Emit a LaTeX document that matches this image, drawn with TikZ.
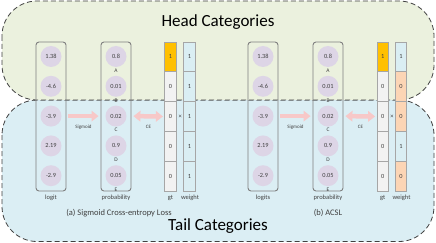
\documentclass[tikz,border=0pt]{standalone}
\usepackage{fontspec}
\setmainfont{Carlito}
\usetikzlibrary{arrows.meta}
\definecolor{headg}{HTML}{EBF1DE}
\definecolor{tailb}{HTML}{DBEEF4}
\definecolor{circc}{HTML}{DDD5E6}
\definecolor{goldc}{HTML}{FFC000}
\definecolor{gtg}{HTML}{F2F2F2}
\definecolor{wblue}{HTML}{DAEEF3}
\definecolor{worange}{HTML}{FCD5B5}
\definecolor{arrp}{HTML}{F7C8C8}
\definecolor{txtc}{HTML}{404040}
\definecolor{boxc}{HTML}{7F7F7F}
\definecolor{cellc}{HTML}{A6A6A6}
\begin{document}
\begin{tikzpicture}[x=1pt,y=-1pt,
  region/.style={draw=black!75, dash pattern=on 5pt off 3pt, line width=0.8pt, rounded corners=35pt},
  titlet/.style={font=\fontsize{17}{17}\selectfont, text=black},
  colbox/.style={draw=boxc, line width=0.9pt, rounded corners=3pt, minimum width=30pt, minimum height=149pt, inner sep=0pt},
  circn/.style={circle, fill=circc, minimum size=21pt, inner sep=0pt, font=\fontsize{6.3}{6.3}\selectfont, text=txtc},
  cell/.style={draw=cellc, line width=0.7pt, minimum width=11.5pt, minimum height=29.8pt, inner sep=0pt, font=\fontsize{6.3}{6.3}\selectfont, text=txtc},
  letter/.style={inner sep=0pt, font=\fontsize{5.5}{5.5}\selectfont, text=txtc},
  lab/.style={inner sep=0pt, font=\fontsize{6.5}{6.5}\selectfont, text=txtc},
  smalll/.style={inner sep=0pt, font=\fontsize{5}{5}\selectfont, text=txtc},
  capt/.style={inner sep=0pt, font=\fontsize{8.5}{8.5}\selectfont, text=txtc},
  arr/.style={draw=arrp, line width=4.5pt, -{Triangle[width=10.5pt,length=7pt]}},
  darr/.style={draw=arrp, line width=4.5pt, {Triangle[width=10.5pt,length=7pt]}-{Triangle[width=10.5pt,length=7pt]}}
]
\useasboundingbox (0,0) rectangle (436,243);
\path[region, fill=tailb] (2,100) rectangle (434,241.5);
\path[region, fill=headg] (2,1) rectangle (434,100);
\node[titlet] (head) at (218,22) {Head Categories};
\node[titlet] (tail) at (218,226) {Tail Categories};

% ---------- panel (a)
\node[colbox] (a-lbox) at (51,116.5) {};
\node[colbox] (a-pbox) at (116,116.5) {};
\foreach \v [count=\i] in {1.38,-4.6,-3.9,2.19,-2.9}
  \node[circn] (a-l\i) at (51,{56.5+(\i-1)*29.8}) {\v};
\foreach \v [count=\i] in {0.8,0.01,0.02,0.9,0.05}
  \node[circn] (a-p\i) at (116,{56.5+(\i-1)*29.8}) {\v};
\foreach \v [count=\i] in {A,B,C,D,E}
  \node[letter] (a-\v) at (116,{70.5+(\i-1)*29.8}) {\v};
\foreach \v/\c [count=\i] in {1/goldc,0/gtg,0/gtg,0/gtg,0/gtg}
  \node[cell, fill=\c] (a-g\i) at (170.5,{56.9+(\i-1)*29.8}) {\v};
\foreach \v/\c [count=\i] in {1/wblue,1/wblue,1/wblue,1/wblue,1/wblue}
  \node[cell, fill=\c] (a-w\i) at (189.5,{56.9+(\i-1)*29.8}) {\v};
\node[lab] (a-times) at (180.2,116.5) {×};
\draw[arr, shorten <=1.5pt, shorten >=2pt] (a-lbox.east |- a-l3) -- (a-pbox.west |- a-l3);
\draw[darr, shorten <=2pt, shorten >=1.5pt] (a-pbox.east |- a-l3) -- (a-g3.west);
\node[smalll] (a-sig) at (83.5,127) {Sigmoid};
\node[smalll] (a-ce) at (148.5,127) {CE};
\node[lab] (a-lt) at (51,198) {logit};
\node[lab] (a-pt) at (116,198) {probability};
\node[lab] (a-gt) at (170.5,198) {gt};
\node[lab] (a-wt) at (190,198) {weight};
\node[capt] (a-cap) at (119,213) {(a) Sigmoid Cross-entropy Loss};

% ---------- panel (b)
\node[colbox] (b-lbox) at (263,116.5) {};
\node[colbox] (b-pbox) at (328,116.5) {};
\foreach \v [count=\i] in {1.38,-4.6,-3.9,2.19,-2.9}
  \node[circn] (b-l\i) at (263,{56.5+(\i-1)*29.8}) {\v};
\foreach \v [count=\i] in {0.8,0.01,0.02,0.9,0.05}
  \node[circn] (b-p\i) at (328,{56.5+(\i-1)*29.8}) {\v};
\foreach \v [count=\i] in {A,B,C,D,E}
  \node[letter] (b-\v) at (328,{70.5+(\i-1)*29.8}) {\v};
\foreach \v/\c [count=\i] in {1/goldc,0/gtg,0/gtg,0/gtg,0/gtg}
  \node[cell, fill=\c] (b-g\i) at (382.7,{56.9+(\i-1)*29.8}) {\v};
\foreach \v/\c [count=\i] in {1/wblue,0/worange,0/worange,1/wblue,0/worange}
  \node[cell, fill=\c] (b-w\i) at (401,{56.9+(\i-1)*29.8}) {\v};
\node[lab] (b-times) at (391.9,116.5) {×};
\draw[arr, shorten <=1.5pt, shorten >=2pt] (b-lbox.east |- b-l3) -- (b-pbox.west |- b-l3);
\draw[darr, shorten <=2pt, shorten >=1.5pt] (b-pbox.east |- b-l3) -- (b-g3.west);
\node[smalll] (b-sig) at (295.5,127) {Sigmoid};
\node[smalll] (b-ce) at (360.5,127) {CE};
\node[lab] (b-lt) at (263,198) {logits};
\node[lab] (b-pt) at (328,198) {probability};
\node[lab] (b-gt) at (382.7,198) {gt};
\node[lab] (b-wt) at (401.5,198) {weight};
\node[capt] (b-cap) at (328,213) {(b) ACSL};
\end{tikzpicture}
\end{document}
